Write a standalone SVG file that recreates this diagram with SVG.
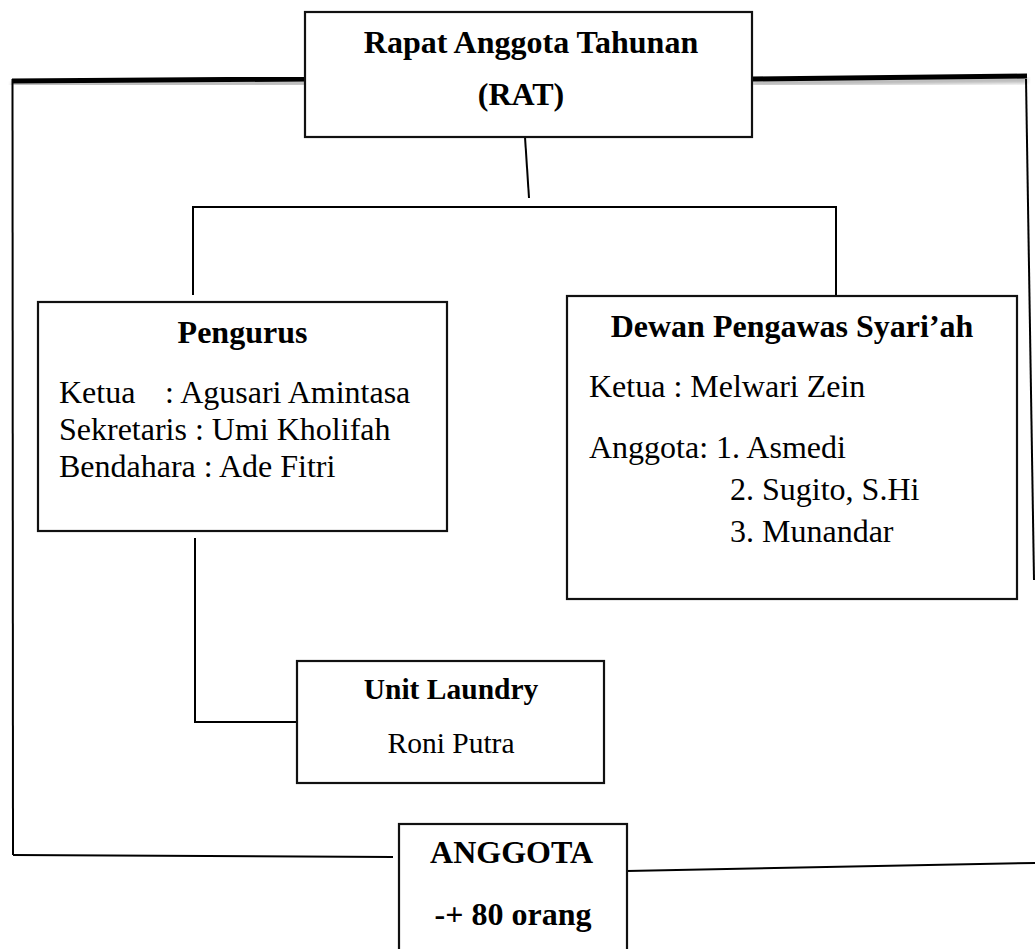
<svg xmlns="http://www.w3.org/2000/svg" width="1035" height="949" viewBox="0 0 1035 949">
<style>
.box{fill:#fff;stroke:#111;stroke-width:2.2}
.ln{fill:none;stroke:#000;stroke-width:2}
.thick{fill:none;stroke:#000;stroke-width:5}
.t{font-family:"Liberation Serif","Times New Roman",serif;fill:#000}
.b{font-weight:bold}
.big{font-size:32px}
.sm{font-size:29.5px}
.c{text-anchor:middle}
</style>
<defs>
<filter id="sh" x="-5%" y="-100%" width="110%" height="400%">
<feGaussianBlur in="SourceAlpha" stdDeviation="2"/>
<feOffset dx="0" dy="4" result="o"/>
<feComponentTransfer><feFuncA type="linear" slope="0.35"/></feComponentTransfer>
<feMerge><feMergeNode/><feMergeNode in="SourceGraphic"/></feMerge>
</filter>
</defs>
<rect width="1035" height="949" fill="#fff"/>
<g id="connectors">
<line class="thick" x1="12" y1="81" x2="308" y2="79" filter="url(#sh)"/>
<line class="thick" x1="752" y1="79" x2="1027" y2="76" filter="url(#sh)"/>
<line class="ln" x1="12.5" y1="79" x2="13" y2="855"/>
<line class="ln" x1="13" y1="855" x2="393" y2="857"/>
<line class="ln" x1="1026" y1="79" x2="1034" y2="580"/>
<line class="ln" x1="627" y1="871" x2="1035" y2="863"/>
<line class="ln" x1="525" y1="137" x2="529" y2="198"/>
<line class="ln" x1="193" y1="207" x2="836" y2="207"/>
<line class="ln" x1="193" y1="206" x2="193" y2="295"/>
<line class="ln" x1="836" y1="206" x2="836" y2="296"/>
<line class="ln" x1="195" y1="538" x2="195" y2="722"/>
<line class="ln" x1="194" y1="722" x2="297" y2="722"/>
</g>
<g id="rat">
<rect class="box" x="305" y="12" width="447" height="125"/>
<text class="t b big c" x="531" y="53">Rapat Anggota Tahunan</text>
<text class="t b big c" x="521" y="105">(RAT)</text>
</g>
<g id="pengurus">
<rect class="box" x="38" y="302" width="409" height="229"/>
<text class="t b big c" x="242.5" y="343">Pengurus</text>
<text class="t big" x="59" y="403">Ketua</text>
<text class="t big" x="165" y="403">: Agusari Amintasa</text>
<text class="t big" x="59" y="440">Sekretaris : Umi Kholifah</text>
<text class="t big" x="59" y="477">Bendahara : Ade Fitri</text>
</g>
<g id="dewan">
<rect class="box" x="567" y="296" width="450" height="303"/>
<text class="t b big c" x="792" y="337">Dewan Pengawas Syari’ah</text>
<text class="t big" x="589" y="397">Ketua : Melwari Zein</text>
<text class="t big" x="589" y="458">Anggota: 1. Asmedi</text>
<text class="t big" x="730" y="500">2. Sugito, S.Hi</text>
<text class="t big" x="730" y="542">3. Munandar</text>
</g>
<g id="unit">
<rect class="box" x="297" y="661" width="307" height="122"/>
<text class="t b sm c" x="451" y="699">Unit Laundry</text>
<text class="t sm c" x="451" y="753">Roni Putra</text>
</g>
<g id="anggota">
<rect class="box" x="399" y="824" width="228" height="140"/>
<text class="t b big c" x="511.5" y="863">ANGGOTA</text>
<text class="t b big c" x="513" y="925">-+ 80 orang</text>
</g>
</svg>
